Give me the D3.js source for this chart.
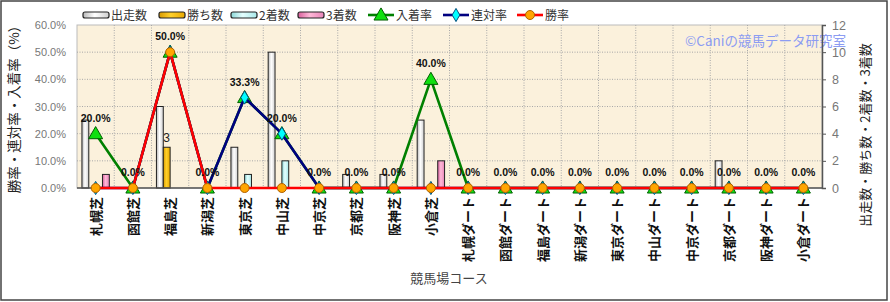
<!DOCTYPE html>
<html>
<head>
<meta charset="utf-8">
<script src="https://d3js.org/d3.v7.min.js"></script>
<style>
  body { margin: 0; background: #fff; }
  text { font-family: "Liberation Sans", "Noto Sans CJK JP", sans-serif; }
  .jp { font-family: "Noto Sans CJK JP", sans-serif; }
</style>
</head>
<body>
<div id="chart"></div>
<script>
// courses
var courses = ["札幌芝", "函館芝", "福島芝", "新潟芝", "東京芝", "中山芝", "中京芝", "京都芝", "阪神芝", "小倉芝",
  "札幌ダート", "函館ダート", "福島ダート", "新潟ダート", "東京ダート", "中山ダート", "中京ダート", "京都ダート", "阪神ダート", "小倉ダート"];

// counts (right axis)
var runs    = [5, 0, 6, 0, 3, 10, 0, 1, 1, 5, 0, 0, 0, 0, 0, 0, 0, 2, 0, 0];
var wins    = [0, 0, 3, 0, 0, 0, 0, 0, 0, 0, 0, 0, 0, 0, 0, 0, 0, 0, 0, 0];
var seconds = [0, 0, 0, 0, 1, 2, 0, 0, 0, 0, 0, 0, 0, 0, 0, 0, 0, 0, 0, 0];
var thirds  = [1, 0, 0, 0, 0, 0, 0, 0, 0, 2, 0, 0, 0, 0, 0, 0, 0, 0, 0, 0];

// rates % (left axis)
var placeRate  = [20, 0, 50, 0, 33.3, 20, 0, 0, 0, 40, 0, 0, 0, 0, 0, 0, 0, 0, 0, 0];
var rentaiRate = [0, 0, 50, 0, 33.3, 20, 0, 0, 0, 0, 0, 0, 0, 0, 0, 0, 0, 0, 0, 0];
var winRate    = [0, 0, 50, 0, 0, 0, 0, 0, 0, 0, 0, 0, 0, 0, 0, 0, 0, 0, 0, 0];

var leftTicks = [0, 10, 20, 30, 40, 50, 60];
var rightTicks = [0, 2, 4, 6, 8, 10, 12];

var W = 890, H = 302;
var plot = { left: 77, right: 822, top: 25, bottom: 188 };

var svg = d3.select("#chart").append("svg")
  .attr("width", W).attr("height", H);

var defs = svg.append("defs");
function grad(id, c1, c2, c3) {
  var g = defs.append("linearGradient").attr("id", id)
    .attr("x1", "0%").attr("x2", "100%").attr("y1", "0%").attr("y2", "0%");
  g.append("stop").attr("offset", "0%").attr("stop-color", c1);
  g.append("stop").attr("offset", "45%").attr("stop-color", c2);
  g.append("stop").attr("offset", "100%").attr("stop-color", c3);
}
grad("gRuns", "#b8b8b8", "#ffffff", "#d0d0d0");
grad("gWins", "#d89a00", "#ffd02a", "#e8a800");
grad("gSec", "#8cd8d8", "#e4ffff", "#a8e8e8");
grad("gThird", "#d8609c", "#ffb8d8", "#e884b8");

// outer border
svg.append("rect").attr("x", 1).attr("y", 1).attr("width", 886).attr("height", 299)
  .attr("fill", "none").attr("stroke", "#444").attr("stroke-width", 1.5);

var x = d3.scaleBand().domain(courses).range([plot.left, plot.right]).padding(0);
var series = ["runs", "wins", "seconds", "thirds"];
var x1 = d3.scaleBand().domain(series).range([0, x.bandwidth()]).paddingInner(0).paddingOuter(0.72);
var yL = d3.scaleLinear().domain([0, 60]).range([plot.bottom, plot.top]);
var yR = d3.scaleLinear().domain([0, 12]).range([plot.bottom, plot.top]);

// plot background
svg.append("rect").attr("x", plot.left).attr("y", plot.top)
  .attr("width", plot.right - plot.left).attr("height", plot.bottom - plot.top)
  .attr("fill", "#fbf1dc").attr("stroke", "#bbb");

// grid
svg.append("g").selectAll("line").data(leftTicks.slice(1, -1)).join("line")
  .attr("x1", plot.left).attr("x2", plot.right)
  .attr("y1", d => yL(d)).attr("y2", d => yL(d))
  .attr("stroke", "#a8a8a8").attr("stroke-dasharray", "1,1.5");
svg.append("g").selectAll("line").data(courses.slice(1)).join("line")
  .attr("x1", d => x(d)).attr("x2", d => x(d))
  .attr("y1", plot.top).attr("y2", plot.bottom)
  .attr("stroke", "#a8a8a8").attr("stroke-dasharray", "1,1.5");

// watermark
svg.append("text").attr("class", "jp").attr("x", 846).attr("y", 45.5)
  .attr("text-anchor", "end").attr("font-size", 13.5).attr("fill", "#8c9cf2")
  .text("©Caniの競馬データ研究室");

// bars
var barSeries = [
  { key: "runs", vals: runs, fill: "url(#gRuns)" },
  { key: "wins", vals: wins, fill: "url(#gWins)" },
  { key: "seconds", vals: seconds, fill: "url(#gSec)" },
  { key: "thirds", vals: thirds, fill: "url(#gThird)" }
];
barSeries.forEach(function (s) {
  svg.append("g").selectAll("rect")
    .data(courses.map((c, i) => ({ c: c, v: s.vals[i] })).filter(d => d.v > 0))
    .join("rect")
    .attr("x", d => x(d.c) + x1(s.key))
    .attr("width", x1.bandwidth())
    .attr("y", d => yR(d.v))
    .attr("height", d => yR(0) - yR(d.v))
    .attr("fill", s.fill).attr("stroke", "#222").attr("stroke-width", 1);
});
// win count label
svg.append("g").selectAll("text")
  .data(courses.map((c, i) => ({ c: c, v: wins[i] })).filter(d => d.v > 0))
  .join("text")
  .attr("x", d => x(d.c) + x1("wins") + x1.bandwidth() / 2)
  .attr("y", d => yR(d.v) - 5)
  .attr("text-anchor", "middle").attr("font-size", 12).attr("fill", "#222")
  .text(d => d.v);

// axes lines
svg.append("line").attr("x1", plot.left).attr("x2", plot.right)
  .attr("y1", plot.bottom).attr("y2", plot.bottom).attr("stroke", "#555").attr("stroke-width", 1.5);
var rAxis = svg.append("g").attr("transform", "translate(" + plot.right + ",0)")
  .call(d3.axisRight(yR).tickValues(rightTicks).tickSize(4).tickPadding(6));
rAxis.select(".domain").attr("stroke", "#555").attr("stroke-width", 1.5);
rAxis.selectAll(".tick line").attr("stroke", "#555");
rAxis.selectAll(".tick text").attr("font-size", 12.5).attr("fill", "#777")
  .attr("font-family", "Liberation Sans, sans-serif");

var lAxis = svg.append("g").attr("transform", "translate(" + plot.left + ",0)")
  .call(d3.axisLeft(yL).tickValues(leftTicks).tickSize(0).tickPadding(11)
    .tickFormat(d => d.toFixed(1) + "%"));
lAxis.select(".domain").remove();
lAxis.selectAll(".tick text").attr("font-size", 11).attr("fill", "#777")
  .attr("font-family", "Liberation Sans, sans-serif");

// lines
function drawLine(vals, color, marker) {
  var pts = courses.map((c, i) => ({ c: c, v: vals[i] }));
  svg.append("path").datum(pts)
    .attr("d", d3.line().x(d => x(d.c) + x.bandwidth() / 2).y(d => yL(d.v)))
    .attr("fill", "none").attr("stroke", color).attr("stroke-width", 2.6)
    .attr("stroke-linejoin", "round");
  var g = svg.append("g");
  pts.forEach(function (d) {
    var cx = x(d.c) + x.bandwidth() / 2, cy = yL(d.v);
    marker(g, cx, cy);
  });
}
function tri(g, cx, cy) {
  g.append("path").attr("d", d3.symbol(d3.symbolTriangle, 85)())
    .attr("transform", "translate(" + cx + "," + (cy + 1) + ")")
    .attr("fill", "#10e010").attr("stroke", "#006000").attr("stroke-width", 1);
}
function diamond(g, cx, cy) {
  g.append("path").attr("d", d3.symbol(d3.symbolDiamond, 50)())
    .attr("transform", "translate(" + cx + "," + cy + ")")
    .attr("fill", "#00ffff").attr("stroke", "#005080").attr("stroke-width", 1);
}
function dot(g, cx, cy) {
  g.append("circle").attr("cx", cx).attr("cy", cy).attr("r", 4.5)
    .attr("fill", "#ffa500").attr("stroke", "#b06000").attr("stroke-width", 1);
}
drawLine(placeRate, "#008000", tri);
drawLine(rentaiRate, "#000080", diamond);
drawLine(winRate, "#ff0000", dot);

// rate labels
svg.append("g").selectAll("text")
  .data(courses.map((c, i) => ({ c: c, v: Math.max(placeRate[i], rentaiRate[i], winRate[i]) })))
  .join("text")
  .attr("x", d => x(d.c) + x.bandwidth() / 2)
  .attr("y", d => yL(d.v) - 12)
  .attr("text-anchor", "middle").attr("font-size", 10.5).attr("font-weight", "bold")
  .attr("fill", "#111")
  .text(d => d.v.toFixed(1) + "%");

// x labels
svg.append("g").selectAll("text").data(courses).join("text")
  .attr("class", "jp")
  .attr("transform", d => "translate(" + (x(d) + x.bandwidth() / 2 + 5) + ",197) rotate(-90)")
  .attr("text-anchor", "end").attr("font-size", 13).attr("font-weight", "bold").attr("fill", "#111")
  .text(d => d);

// axis titles
svg.append("text").attr("class", "jp")
  .attr("transform", "translate(19,106) rotate(-90)")
  .attr("text-anchor", "middle").attr("font-size", 13.5).attr("fill", "#222")
  .text("勝率・連対率・入着率（%）");
svg.append("text").attr("class", "jp")
  .attr("transform", "translate(870,135) rotate(-90)")
  .attr("text-anchor", "middle").attr("font-size", 13).attr("fill", "#222")
  .text("出走数・勝ち数・2着数・3着数");
svg.append("text").attr("class", "jp")
  .attr("x", 449).attr("y", 283).attr("text-anchor", "middle")
  .attr("font-size", 13).attr("fill", "#444")
  .text("競馬場コース");

// legend
var legendItems = [
  { name: "出走数", type: "bar", fill: "url(#gRuns)", x: 83 },
  { name: "勝ち数", type: "bar", fill: "url(#gWins)", x: 159 },
  { name: "2着数", type: "bar", fill: "url(#gSec)", x: 231 },
  { name: "3着数", type: "bar", fill: "url(#gThird)", x: 298 },
  { name: "入着率", type: "line", color: "#008000", marker: tri, x: 368 },
  { name: "連対率", type: "line", color: "#000080", marker: diamond, x: 443 },
  { name: "勝率", type: "line", color: "#ff0000", marker: dot, x: 517 }
];
var lg = svg.append("g");
legendItems.forEach(function (d) {
  if (d.type === "bar") {
    lg.append("rect").attr("x", d.x).attr("y", 12).attr("width", 26).attr("height", 6)
      .attr("rx", 2).attr("fill", d.fill).attr("stroke", "#222").attr("stroke-width", 1.2);
  } else {
    lg.append("line").attr("x1", d.x).attr("x2", d.x + 26).attr("y1", 15).attr("y2", 15)
      .attr("stroke", d.color).attr("stroke-width", 2.6);
    d.marker(lg, d.x + 13, 15);
  }
  lg.append("text").attr("class", "jp").attr("x", d.x + 28).attr("y", 19.5)
    .attr("font-size", 12).attr("fill", "#333").text(d.name);
});
</script>
</body>
</html>
